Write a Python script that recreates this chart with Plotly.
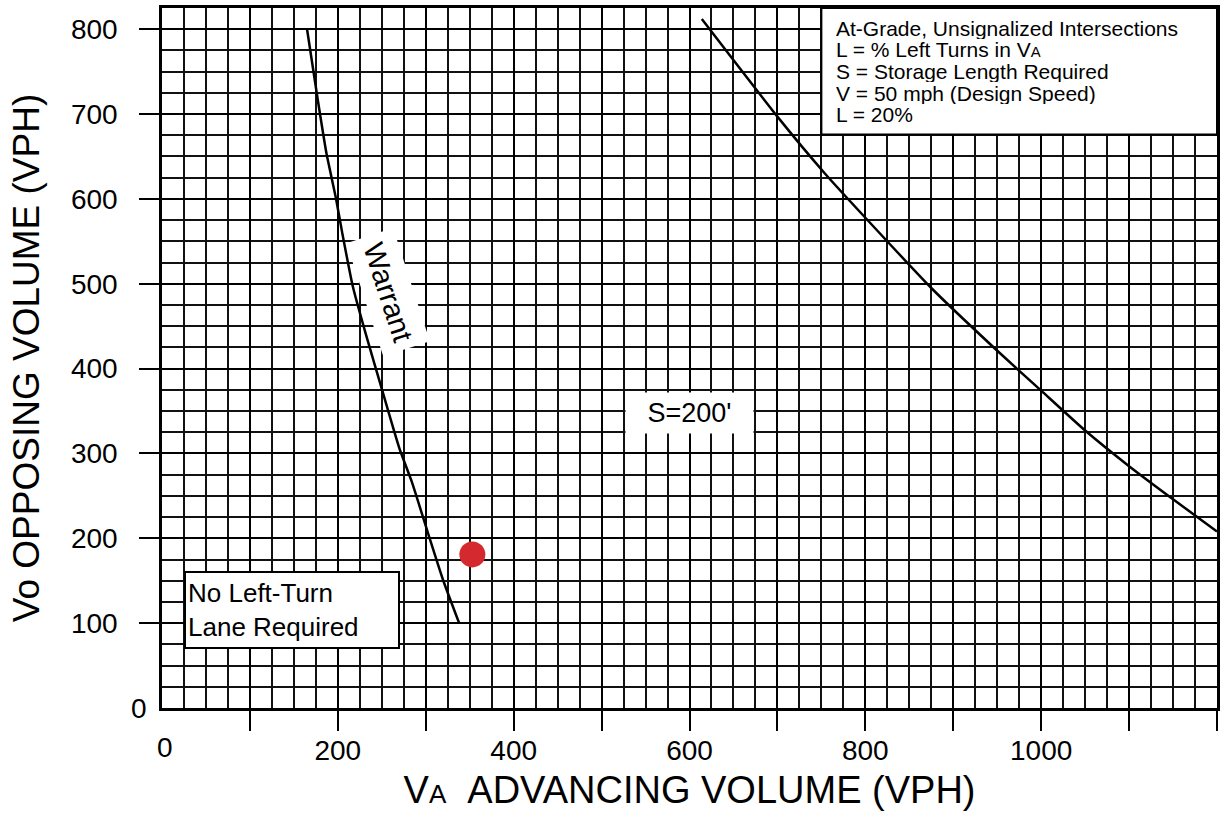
import plotly.graph_objects as go

# ---- data ----
warrant_x = [165, 177, 187, 198, 205, 217, 232, 250, 270, 284, 302, 320, 338]
warrant_y = [800, 718, 654, 600, 560, 497, 440, 376, 306, 267, 208, 150, 100]

s200_x = [614, 700, 754, 799, 875, 947, 1000, 1050, 1100, 1150, 1200]
s200_y = [812, 697, 630, 579, 495, 424, 374, 327, 285, 246, 208]

site_x = [353]
site_y = [181]

x_tick_vals = [100, 200, 300, 400, 500, 600, 700, 800, 900, 1000, 1100, 1200]
x_tick_text = ["", "200", "", "400", "", "600", "", "800", "", "1000", "", ""]
y_tick_vals = [100, 200, 300, 400, 500, 600, 700, 800]
y_tick_text = ["100", "200", "300", "400", "500", "600", "700", "800"]

legend_lines = [
    "At-Grade, Unsignalized Intersections",
    "L = % Left Turns in V<span style='font-size:15px'>A</span>",
    "S = Storage Length Required",
    "V = 50 mph (Design Speed)",
    "L = 20%",
]

FONT = "Liberation Sans, Arial, sans-serif"

fig = go.Figure()
fig.add_trace(go.Scatter(x=warrant_x, y=warrant_y, mode="lines",
                         line=dict(color="black", width=2.5, shape="spline", smoothing=0.5),
                         hoverinfo="skip", showlegend=False))
fig.add_trace(go.Scatter(x=s200_x, y=s200_y, mode="lines",
                         line=dict(color="black", width=2.5, shape="spline", smoothing=0.5),
                         hoverinfo="skip", showlegend=False))
fig.add_trace(go.Scatter(x=site_x, y=site_y, mode="markers",
                         marker=dict(color="#d42a2f", size=26, line=dict(width=0)),
                         showlegend=False))

axis_common = dict(
    showgrid=True, gridcolor="black", gridwidth=2.4,
    showline=True, linecolor="black", linewidth=2.5, mirror=True,
    ticks="outside", ticklen=20, tickwidth=2, tickcolor="black",
    tickfont=dict(family=FONT, size=28, color="black"),
    zeroline=False,
    minor=dict(dtick=25, showgrid=True, gridcolor="#111111", gridwidth=1.7, ticks=""),
)

fig.update_xaxes(range=[0, 1200], tickmode="array", tickvals=x_tick_vals,
                 ticktext=x_tick_text, ticklabelstandoff=-4,
                 title=dict(text="V<span style='font-size:26px'>A</span>\u00a0\u00a0ADVANCING VOLUME (VPH)",
                            font=dict(family=FONT, size=38, color="black"), standoff=12),
                 **axis_common)
fig.update_yaxes(range=[0, 825], tickmode="array", tickvals=y_tick_vals,
                 ticktext=y_tick_text, ticklabelstandoff=16,
                 title=dict(text="Vo OPPOSING VOLUME (VPH)",
                            font=dict(family=FONT, size=37, color="black"), standoff=20),
                 **axis_common)

annotations = []
# zero labels (no tick mark at origin in the reference)
annotations.append(dict(text="0", xref="paper", x=0, yref="y", y=0, xanchor="right",
                        yanchor="middle", xshift=-13, showarrow=False,
                        font=dict(family=FONT, size=28, color="black")))
annotations.append(dict(text="0", xref="x", x=0, yref="paper", y=0, xanchor="center",
                        yanchor="top", xshift=3, yshift=-22, showarrow=False,
                        font=dict(family=FONT, size=28, color="black")))
# curve labels
annotations.append(dict(text="Warrant", x=257, y=490, xref="x", yref="y", textangle=72,
                        showarrow=False, bgcolor="white", borderpad=8,
                        font=dict(family=FONT, size=29, color="black")))
annotations.append(dict(text="S=200'", x=600, y=348, xref="x", yref="y",
                        showarrow=False, bgcolor="white", width=125, height=38,
                        font=dict(family=FONT, size=27, color="black")))
annotations.append(dict(text="No Left-Turn<br>Lane Required", x=148, y=115, xref="x", yref="y",
                        showarrow=False, bgcolor="white", bordercolor="black", borderwidth=2,
                        borderpad=2, width=208, height=70, align="left",
                        font=dict(family=FONT, size=26, color="black")))
# legend box text lines
line_y = [0.972, 0.941, 0.910, 0.879, 0.848]
for txt, yy in zip(legend_lines, line_y):
    annotations.append(dict(text=txt, xref="paper", yref="paper", x=0.637, y=yy,
                            xanchor="left", yanchor="middle", showarrow=False,
                            height=22, valign="middle",
                            font=dict(family=FONT, size=21, color="black")))

shapes = [dict(type="rect", xref="paper", yref="paper", x0=0.625, x1=1.0, y0=0.8193, y1=1.0,
               fillcolor="white", line=dict(color="black", width=2), layer="above")]

fig.update_layout(
    width=1225, height=824,
    margin=dict(l=162, r=7, t=5, b=116, pad=0),
    paper_bgcolor="white", plot_bgcolor="white",
    annotations=annotations, shapes=shapes,
    font=dict(family=FONT, color="black"),
)

fig.write_html("out.html", config={"displayModeBar": False},
               post_script="document.body.style.margin='0';document.body.style.overflow='hidden';")
